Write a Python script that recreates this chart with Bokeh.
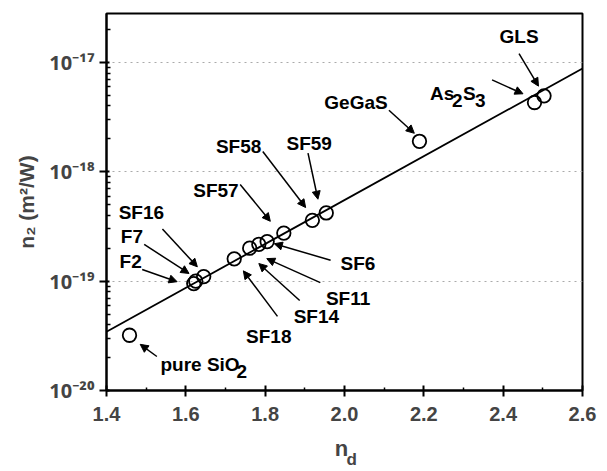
from bokeh.plotting import figure
from bokeh.models import (Range1d, FixedTicker, CustomJSTickFormatter, Label, Arrow,
                          NormalHead, ColumnDataSource, LinearAxis)
from bokeh.embed import file_html
from bokeh.resources import INLINE

# ---- data ----
glasses = ["pure SiO2", "F2", "F7", "SF16", "SF18", "SF14", "SF11", "SF6",
           "SF57", "SF58", "SF59", "GeGaS", "As2S3", "GLS"]
n_d = [1.458, 1.620, 1.625, 1.645, 1.722, 1.761, 1.784, 1.805,
       1.847, 1.919, 1.954, 2.189, 2.479, 2.503]
n_2 = [3.2e-20, 9.5e-20, 1.0e-19, 1.1e-19, 1.6e-19, 2.0e-19, 2.17e-19, 2.3e-19,
       2.75e-19, 3.6e-19, 4.2e-19, 1.9e-18, 4.3e-18, 4.95e-18]
fit_x = [1.4, 2.6]
fit_y = [3.45e-20, 8.8e-18]

x_ticks = [1.4, 1.6, 1.8, 2.0, 2.2, 2.4, 2.6]
x_minor = [1.5, 1.7, 1.9, 2.1, 2.3, 2.5]
y_exps = [-20, -19, -18, -17]

FONT = "Liberation Sans"

p = figure(width=607, height=471, output_backend="svg", toolbar_location=None,
           y_axis_type="log", x_range=Range1d(1.4, 2.6), y_range=Range1d(1e-20, 2.8e-17),
           min_border_left=106, min_border_right=25, min_border_top=13, min_border_bottom=76)
p.background_fill_color = "white"
p.border_fill_color = "white"
p.outline_line_color = "black"
p.outline_line_width = 2

# grid
p.xgrid.visible = False
p.ygrid.grid_line_color = "#aaaaaa"
p.ygrid.grid_line_dash = "dotted"
p.ygrid.grid_line_width = 1

# x axis
p.xaxis.ticker = FixedTicker(ticks=x_ticks, minor_ticks=x_minor)
p.xaxis.major_label_overrides = {t: f"{t:.1f}" for t in x_ticks}
p.xaxis.axis_line_width = 2
p.xaxis.major_tick_in = 5
p.xaxis.major_tick_out = 6
p.xaxis.minor_tick_in = 3
p.xaxis.minor_tick_out = 0
p.xaxis.major_tick_line_width = 2
p.xaxis.minor_tick_line_width = 1.5
p.xaxis.major_label_text_font = FONT
p.xaxis.major_label_text_font_style = "bold"
p.xaxis.major_label_text_font_size = "20px"
p.xaxis.major_label_standoff = 10
p.xaxis.axis_label = "n\u00a0"
p.xaxis.axis_label_text_font = FONT
p.xaxis.axis_label_text_font_style = "bold"
p.xaxis.axis_label_text_font_size = "22px"
p.xaxis.axis_label_standoff = 12

# second (label-only) axis carrying the subscript "d"
ax2 = LinearAxis(ticker=FixedTicker(ticks=[]), axis_line_alpha=0,
                 major_tick_in=0, major_tick_out=0, minor_tick_in=0, minor_tick_out=0,
                 axis_label="\u00a0\u00a0\u00a0d", axis_label_standoff=-14,
                 axis_label_text_font=FONT, axis_label_text_font_style="bold",
                 axis_label_text_font_size="17px")
p.add_layout(ax2, "below")

# y axis
minors = []
for e in y_exps[:-1]:
    for k in range(2, 10):
        minors.append(k * 10.0 ** e)
minors.append(2 * 10.0 ** -17)
p.yaxis.ticker = FixedTicker(ticks=[10.0 ** e for e in y_exps], minor_ticks=minors)
p.yaxis.formatter = CustomJSTickFormatter(code="""
const sup = {"-":"\u207b","0":"\u2070","1":"\u00b9","2":"\u00b2","3":"\u00b3","4":"\u2074","5":"\u2075","6":"\u2076","7":"\u2077","8":"\u2078","9":"\u2079"};
const e = Math.round(Math.log10(tick));
return "10" + String(e).split("").map(c => sup[c]).join("");
""")
p.yaxis.axis_line_width = 2
p.yaxis.major_tick_in = 3
p.yaxis.major_tick_out = 7
p.yaxis.minor_tick_in = 4
p.yaxis.minor_tick_out = 0
p.yaxis.major_tick_line_width = 2
p.yaxis.minor_tick_line_width = 1.5
p.yaxis.major_label_text_font = "Noto Sans"
p.yaxis.major_label_text_font_style = "bold"
p.yaxis.major_label_text_font_size = "20px"
p.yaxis.major_label_standoff = 5
p.yaxis.axis_label = "n\u2082 (m\u00b2/W)"
p.yaxis.axis_label_text_font = FONT
p.yaxis.axis_label_text_font_style = "bold"
p.yaxis.axis_label_text_font_size = "21px"
p.yaxis.axis_label_standoff = 8

# fit line and points
p.line(fit_x, fit_y, line_color="black", line_width=1.8)
src = ColumnDataSource(dict(x=n_d, y=n_2, name=glasses))
p.scatter("x", "y", source=src, marker="circle", size=13.5, fill_color=None,
          line_color="black", line_width=1.8)

# ---- annotations ----
labels = [("GLS", 2.440, -16.759), ("GeGaS", 2.029, -17.368), ("SF59", 1.911, -17.739),
          ("SF58", 1.733, -17.769), ("SF57", 1.676, -18.170), ("SF16", 1.488, -18.375),
          ("F7", 1.464, -18.592), ("F2", 1.461, -18.824), ("SF6", 2.034, -18.839),
          ("SF11", 2.009, -19.156), ("SF14", 1.929, -19.322), ("SF18", 1.809, -19.503)]
for txt, x, ly in labels:
    p.add_layout(Label(x=x, y=10 ** ly, text=txt, text_align="center", text_baseline="middle",
                       text_font=FONT, text_font_style="bold", text_font_size="19px",
                       text_color="black"))

def compound(parts, x, ly, size=19):
    off = 0
    for txt, dy, w in parts:
        p.add_layout(Label(x=x, y=10 ** ly, text=txt, x_offset=off, y_offset=-dy,
                           text_align="left", text_baseline="middle",
                           text_font=FONT, text_font_style="bold", text_font_size=f"{size}px",
                           text_color="black"))
        off += w

compound([("As", 0, 22), ("2", 7, 11), ("S", 0, 12), ("3", 7, 11)], 2.2154, -17.28)
compound([("pure SiO", 0, 76), ("2", 7, 11)], 1.536, -19.761)

arrows = [(2.440, -16.919, 2.489, -17.217), (2.372, -17.160, 2.450, -17.287),
          (2.112, -17.437, 2.176, -17.648), (1.908, -17.829, 1.933, -18.251),
          (1.794, -17.814, 1.902, -18.327), (1.737, -18.116, 1.813, -18.453),
          (1.541, -18.523, 1.629, -18.869), (1.495, -18.664, 1.608, -18.930),
          (1.490, -18.894, 1.578, -19.005), (1.527, -19.689, 1.485, -19.578),
          (1.965, -18.809, 1.823, -18.658), (1.939, -19.014, 1.804, -18.794),
          (1.887, -19.177, 1.784, -18.839), (1.831, -19.322, 1.745, -18.906)]
for x0, y0, x1, y1 in arrows:
    p.add_layout(Arrow(x_start=x0, y_start=10 ** y0, x_end=x1, y_end=10 ** y1,
                       line_color="black", line_width=1.5,
                       end=NormalHead(size=8, fill_color="black", line_color="black", line_width=1)))

open("out.html", "w").write(file_html(p, INLINE))
